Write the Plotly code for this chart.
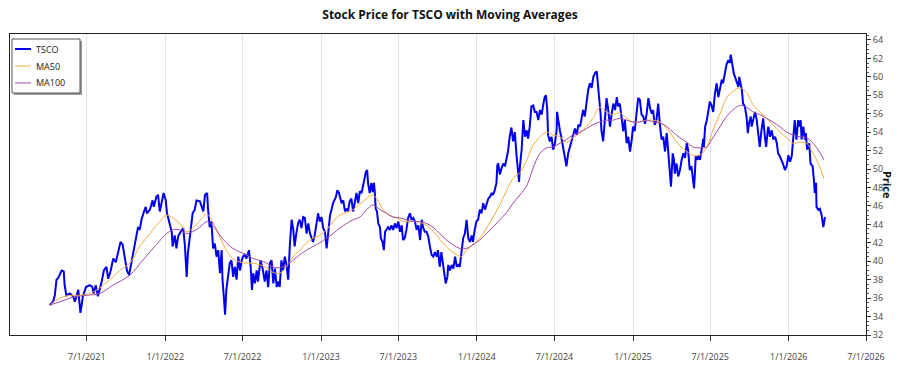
import pandas as pd
import plotly.graph_objects as go

# ---- data (days since 2021-01-01) ----
price_days = [94,102,106,110,114,122,127,129,133,141,149,153,161,166,172,179,188,194,197,202,207,215,221,227,231,237,243,249,254,260,265,270,275,280,286,291,297,301,305,309,315,319,322,329,335,338,344,348,352,356,361,366,369,376,380,382,387,391,395,401,407,411,415,418,424,429,434,438,
446,454,458,463,465,469,473,477,481,485,489,493,497,499,502,505,508,512,516,520,524,528,532,536,540,544,547,551,555,561,565,568,571,575,579,582,588,593,598,602,606,610,614,618,622,626,629,633,637,641,645,649,653,657,661,665,668,672,676,680,684,688,692,696,700,704,708,711,715,719,723,727,731,735,739,743,747,751,755,758,765,768,772,778,782,786,790,793,797,801,805,809,813,817,
821,825,829,835,838,840,844,848,851,854,856,858,861,864,868,870,874,877,880,883,887,891,895,899,903,907,911,915,919,922,926,930,934,938,942,946,950,954,958,962,966,969,973,977,981,985,989,993,997,1001,1004,1008,1012,1016,1020,1022,1026,1028,1032,1036,1040,1044,1048,1051,1055,1059,1063,1067,1071,1075,1079,1083,1086,1090,1094,1098,1102,1106,1110,1114,1118,1122,1126,1130,1133,1137,1141,1143,1145,1149,1153,1157,1161,1165,1168,
1172,1176,1180,1184,1188,1192,1194,
1196,1200,1204,1208,1212,1215,1219,1223,1227,1231,1235,1239,1243,1247,1251,1254,1257,1260,1262,1266,1270,1274,1278,1282,1283,1287,1290,1294,1297,1301,1305,1309,1313,1317,1321,1325,1329,1333,1337,1340,1344,1348,1352,1356,1360,1364,1368,1372,1376,1379,1382,1385,1387,1391,1395,1399,1403,1407,1411,1415,1419,1423,1426,1430,1434,1438,1442,1446,1450,1454,1458,1461,1465,1469,1473,1477,1481,1485,1489,1493,1497,1501,1505,1508,1512,1516,1520,1524,1528,1532,1536,1540,1544,1547,1550,1554,1557,1559,1563,1567,
1571,1575,1579,1583,1587,1590,1594,1598,1601,1604,1606,1608,1612,1614,1618,1622,1626,1627,1630,1634,1637,1641,1645,1649,1653,1657,1661,1665,1669,1672,1676,1680,1684,1688,1690,1694,1697,1700,1704,1708,1710,1713,1716,1719,1723,1727,1730,1733,1737,1739,1743,1747,1751,1754,1758,1762,1766,1770,1773,1776,1778,1782,1786,1790,1794,1798,1801,1805,1809,1813,1817,1821,1825,1829,1833,1837,1840,1844,1848,1851,1854,1856,1860,1864,1866,1869,1874,1877,1882,1885,1887,1890,1891,1895,1899,1903,1907,1911]

price_vals = [35.25,35.6,36.3,38.0,38.2,39.0,38.9,37.4,36.3,36.5,36.2,35.6,36.9,34.4,36.2,37.2,37.4,37.2,36.5,37.4,36.2,37.6,39.0,39.4,38.1,39.0,40.3,39.9,40.9,42.1,41.8,40.1,39.0,38.5,39.8,41.2,42.7,43.7,43.4,44.5,45.4,45.9,45.2,45.6,46.6,45.9,47.0,47.2,45.4,46.3,47.4,46.6,45.2,43.9,43.2,41.6,42.8,41.4,42.7,43.2,43.6,41.6,38.3,40.9,43.2,45.2,45.6,46.6,
46.5,45.4,47.2,47.4,45.7,43.7,44.3,41.4,41.9,40.5,41.2,38.7,41.2,38.0,36.2,34.2,36.9,38.7,39.8,40.1,38.3,39.4,38.0,40.5,39.0,40.1,40.5,40.7,40.3,41.2,39.4,36.9,38.7,37.6,39.0,37.8,40.1,39.2,37.8,39.0,37.2,39.8,40.1,37.6,39.2,37.2,37.8,37.2,40.1,39.0,40.5,39.6,38.0,41.9,44.5,43.4,41.6,43.0,44.1,44.5,43.6,44.8,44.7,43.0,44.1,43.0,42.5,42.1,42.8,44.1,45.2,44.3,44.8,43.6,43.2,41.4,43.0,45.0,45.7,46.3,47.0,47.7,47.4,46.3,46.6,45.4,45.7,45.4,46.5,46.8,45.4,46.6,47.4,46.3,
47.6,47.4,48.5,49.7,49.9,48.5,47.4,48.5,47.5,48.5,47.4,45.7,45.4,44.1,43.7,42.5,42.1,41.2,43.2,43.4,43.7,43.4,43.9,43.4,44.1,43.6,44.3,43.2,43.9,42.3,42.5,43.4,44.7,45.2,44.5,44.7,44.3,43.4,43.9,42.3,44.5,43.7,43.2,43.2,42.7,41.6,40.7,40.5,41.0,40.5,41.2,39.4,41.0,39.6,38.5,37.6,38.3,39.6,39.0,39.6,39.2,40.5,39.4,39.6,39.4,41.2,42.5,43.0,44.5,42.5,42.1,42.8,42.1,43.4,44.3,44.5,45.6,45.2,46.3,45.6,46.3,46.8,47.0,47.4,47.2,47.7,48.5,50.4,50.6,49.4,50.1,50.6,50.3,51.4,51.9,
53.5,54.5,53.0,54.0,51.5,49.2,48.6,
50.3,52.1,55.3,53.5,54.2,53.3,54.6,56.8,56.9,56.2,56.2,55.3,56.4,55.9,57.1,57.8,58.0,56.4,53.7,53.0,53.5,52.1,52.8,54.2,56.2,54.6,54.1,53.2,52.4,51.0,50.3,51.7,52.4,52.8,53.5,54.4,53.7,54.8,54.6,55.3,56.4,55.7,57.5,58.6,59.3,58.8,60.0,60.4,60.6,59.3,57.8,56.0,54.2,53.0,55.3,57.7,56.4,54.6,56.0,57.1,56.4,57.8,56.8,57.1,55.7,54.1,55.3,52.8,53.5,51.9,53.2,54.6,54.1,55.7,57.7,57.5,55.9,55.7,54.9,56.0,57.7,56.6,56.0,56.4,54.8,55.3,57.1,54.8,53.2,53.5,51.9,53.9,51.5,49.7,48.1,51.7,51.0,49.5,50.6,49.2,
49.9,51.0,51.7,51.2,52.8,52.1,49.9,50.3,48.8,47.9,49.5,51.4,51.0,51.5,51.0,52.1,53.3,52.4,54.6,55.3,56.4,57.3,56.9,56.2,58.2,59.3,57.8,58.9,59.7,59.3,60.4,61.3,61.8,61.5,62.4,61.1,60.4,60.0,59.5,58.9,60.0,59.1,58.6,57.1,56.8,55.7,53.9,55.0,55.7,54.6,55.3,56.2,55.3,53.9,52.4,54.2,55.5,53.5,52.4,53.9,54.6,53.5,54.2,53.2,53.5,52.8,51.7,51.4,51.0,50.5,49.9,50.3,51.5,50.8,51.4,53.2,55.3,53.2,55.3,54.6,55.3,53.2,54.6,53.2,53.9,52.1,52.8,50.6,50.3,48.8,47.4,48.5,45.9,45.6,45.7,45.0,43.7,44.8]

ma50_days = [94,118,141,165,188,211,235,258,282,305,329,352,368,383,399,415,429,446,462,476,493,508,523,540,555,570,587,602,617,633,649,664,680,696,711,727,743,758,774,790,805,821,837,851,863,875,891,907,922,938,954,969,985,1001,1015,1032,1048,1059,1071,1086,1102,1118,1133,1149,1165,1180,1196,1212,1226,1243,1259,1273,1290,1305,1320,1337,1352,1367,1383,1399,1414,1430,1446,1461,1477,1493,1508,1524,1540,1555,1571,1587,1601,1618,1634,1648,1665,1680,1695,1712,1727,1742,1758,1774,1789,1805,1821,1836,1852,1868,1883,1899,1908]
ma50_vals = [35.25,36.0,36.3,36.3,36.5,37.1,38.0,39.0,39.8,41.6,43.0,44.3,45.0,44.7,44.1,43.2,43.6,44.4,45.1,44.3,42.6,41.2,40.3,39.9,39.8,39.8,39.6,39.3,38.8,38.7,39.4,40.5,41.2,42.0,42.5,42.8,43.4,44.3,45.0,45.3,45.6,46.2,46.8,47.2,46.6,45.6,45.0,44.7,44.3,44.3,44.3,44.1,43.6,42.8,42.0,41.2,40.7,40.5,41.2,41.8,42.5,43.6,44.8,46.1,47.7,49.0,49.6,51.0,52.5,53.5,54.0,53.7,53.5,52.9,53.4,53.9,54.6,55.5,56.7,56.2,55.9,56.1,55.5,55.1,55.1,55.3,55.3,55.1,54.4,53.5,52.5,51.9,51.5,51.5,52.4,54.2,56.0,57.7,58.4,58.8,58.3,57.0,56.2,55.5,54.8,54.0,53.4,52.8,52.9,52.8,51.7,50.2,49.0]

ma100_days = [94,118,148,180,211,242,282,312,344,368,383,399,415,429,446,462,476,493,508,523,540,555,570,587,602,617,633,649,664,680,696,711,727,743,758,774,790,805,821,837,851,868,883,898,915,930,945,962,977,992,1008,1024,1039,1055,1071,1086,1102,1118,1133,1149,1165,1180,1196,1212,1226,1243,1259,1273,1290,1305,1320,1337,1352,1367,1383,1399,1414,1430,1446,1461,1477,1493,1508,1524,1540,1555,1571,1587,1601,1618,1634,1648,1665,1680,1695,1712,1727,1742,1758,1774,1789,1805,1821,1836,1852,1868,1883,1899,1908]
ma100_vals = [35.25,35.6,36.1,36.3,36.5,37.4,38.5,40.1,41.8,43.0,43.4,43.4,43.0,43.2,43.7,44.3,43.9,42.8,42.0,41.4,41.0,40.7,40.3,40.1,39.8,39.4,39.3,39.6,40.1,40.7,41.2,41.6,42.0,42.5,43.0,43.6,44.1,44.5,44.8,45.6,46.1,45.6,45.2,44.8,44.7,44.5,44.3,44.3,44.1,43.7,43.0,42.3,41.8,41.4,41.4,41.8,42.3,43.0,43.7,44.5,45.3,46.3,47.2,48.2,50.0,51.7,52.3,52.4,52.8,53.2,53.7,54.0,54.4,54.8,55.1,55.3,55.3,55.5,55.3,55.1,55.1,55.3,55.1,55.0,54.6,54.0,53.4,52.9,52.4,52.3,52.4,53.4,54.6,55.7,56.4,56.9,56.7,56.2,55.9,55.5,55.1,54.6,54.0,53.7,53.5,53.4,52.8,51.8,51.0]

series_names = ["TSCO", "MA50", "MA100"]
series_colors = ["#0000ee", "#f4ad3d", "#a04aa6"]
series_widths = [2, 1, 1]
title_text = "Stock Price for TSCO with Moving Averages"
y_title = "Price"

base = pd.Timestamp("2021-01-01")
def to_dates(days):
    return base + pd.to_timedelta(days, unit="D")

FONT = "Open Sans"

fig = go.Figure()
fig.add_trace(go.Scatter(x=to_dates(price_days), y=price_vals, mode="lines",
                         name=series_names[0], line=dict(color=series_colors[0], width=series_widths[0])))
fig.add_trace(go.Scatter(x=to_dates(ma50_days), y=ma50_vals, mode="lines",
                         name=series_names[1], line=dict(color=series_colors[1], width=series_widths[1], shape="spline")))
fig.add_trace(go.Scatter(x=to_dates(ma100_days), y=ma100_vals, mode="lines",
                         name=series_names[2], line=dict(color=series_colors[2], width=series_widths[2], shape="spline")))

W, H = 900, 375
ml, mr, mt, mb = 10, 34, 34, 40
pw, ph = W - ml - mr, H - mt - mb

def px2paper_x(px):
    return (px - ml) / pw
def px2paper_y(py):
    return (H - mb - py) / ph

annotations = [dict(text="<b>" + y_title + "</b>", x=px2paper_x(888), y=px2paper_y(185),
                    xref="paper", yref="paper", xanchor="center", yanchor="middle",
                    showarrow=False, textangle=90,
                    font=dict(family=FONT, size=11, color="#111"))]
shapes = []

# ---- legend box (drawn as decoration) ----
lx0, lx1, ly0, ly1 = 12, 80, 39, 93
shapes.append(dict(type="rect", xref="paper", yref="paper",
                   x0=px2paper_x(lx0 + 2), x1=px2paper_x(lx1 + 2),
                   y0=px2paper_y(ly1 + 2), y1=px2paper_y(ly0 + 2),
                   fillcolor="#9a9a9a", line=dict(width=0), layer="above"))
shapes.append(dict(type="rect", xref="paper", yref="paper",
                   x0=px2paper_x(lx0), x1=px2paper_x(lx1),
                   y0=px2paper_y(ly1), y1=px2paper_y(ly0),
                   fillcolor="white", line=dict(color="#555", width=1), layer="above"))
item_y = [49, 66, 83]
for name, col, wd, iy in zip(series_names, series_colors, series_widths, item_y):
    shapes.append(dict(type="line", xref="paper", yref="paper",
                       x0=px2paper_x(15), x1=px2paper_x(31),
                       y0=px2paper_y(iy), y1=px2paper_y(iy),
                       line=dict(color=col, width=wd), layer="above"))
    annotations.append(dict(text=name, x=px2paper_x(34), y=px2paper_y(iy),
                            xref="paper", yref="paper", xanchor="left", yanchor="middle",
                            showarrow=False, font=dict(family=FONT, size=9, color="#222")))

fig.update_layout(
    width=W, height=H,
    margin=dict(l=ml, r=mr, t=mt, b=mb),
    paper_bgcolor="white", plot_bgcolor="white",
    font=dict(family=FONT, size=9, color="#333"),
    title=dict(text="<b>" + title_text + "</b>", x=0.5, xref="container", xanchor="center",
               y=1 - 15 / H, yref="container", yanchor="middle",
               font=dict(family=FONT, size=12, color="#111")),
    showlegend=False,
    xaxis=dict(type="date", range=["2021-01-02", "2026-07-01"],
               tick0="2021-07-01", dtick="M6", tickformat="%-m/%-d/%Y",
               ticks="outside", ticklen=5, tickcolor="#333", ticklabelstandoff=8,
               showgrid=True, gridcolor="#e3e3e3", gridwidth=1,
               showline=True, linecolor="#222", linewidth=1, mirror=True,
               zeroline=False, tickfont=dict(size=9, color="#444")),
    yaxis=dict(side="right", range=[32, 32 + ph / 9.22], tick0=32, dtick=2,
               ticks="outside", ticklen=4, tickcolor="#333",
               minor=dict(dtick=0.5, ticklen=2, ticks="outside", tickcolor="#555"),
               showgrid=False, showline=True, linecolor="#222", linewidth=1, mirror=True,
               zeroline=False, tickfont=dict(size=9, color="#444")),
    annotations=annotations,
    shapes=shapes,
)

fig.write_html("out.html", config={"displayModeBar": False},
               post_script="document.body.style.margin='0';document.body.style.padding='0';")
